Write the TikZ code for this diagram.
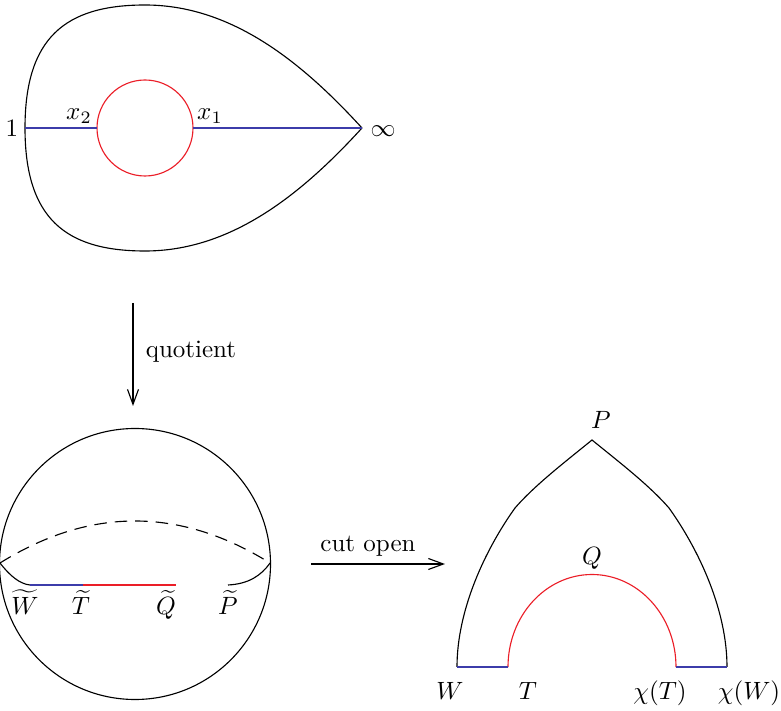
\documentclass[tikz,border=0pt]{standalone}
\usetikzlibrary{arrows.meta}
\definecolor{myblue}{RGB}{60,60,170}
\definecolor{myred}{RGB}{235,30,40}
\begin{document}
\begin{tikzpicture}[x=0.4pt,y=-0.4pt,line width=0.45pt,
  lbl/.style={inner sep=0pt,anchor=base},
  bl/.style={draw=myblue},
  rd/.style={draw=myred},
  arr/.style={-{Straight Barb[length=6pt,width=4.4pt]}},
  dsh/.style={dash pattern=on 5pt off 3.2pt}]
\useasboundingbox (0,0) rectangle (781,711);
% ---- top teardrop ----
\coordinate (one) at (25,128);
\coordinate (inf) at (362,128);
\coordinate (xl) at (97,128);
\coordinate (xr) at (193,128);
\coordinate (cen) at (145,128);
\draw (inf) .. controls (300,60) and (230,5) .. (145,5)
  .. controls (65,5) and (25,38) .. (one)
  .. controls (25,218) and (65,251) .. (145,251)
  .. controls (230,251) and (300,196) .. (inf);
\draw[rd] (cen) circle[radius=19.2pt];
\draw[bl] (one) -- (xl);
\draw[bl] (xr) -- (inf);
\node[lbl] (l1) at (12,137) {$1$};
\node[lbl] (linf) at (383,137) {$\infty$};
\node[lbl] (lx2) at (79,120) {$x_2$};
\node[lbl] (lx1) at (210,120) {$x_1$};
% ---- quotient arrow ----
\coordinate (qa) at (133,303);
\coordinate (qb) at (133,406);
\draw[arr] (qa) -- (qb);
\node[lbl] (quot) at (191,358) {quotient};
% ---- sphere ----
\coordinate (sc) at (135,564);
\coordinate (sl) at (0,563);
\coordinate (sr) at (270,563);
\coordinate (sw) at (30,585);
\coordinate (st) at (83,585);
\coordinate (sq) at (176,585);
\coordinate (sp) at (228,585);
\draw (sc) circle[radius=54.2pt];
\draw[dsh] (sl) .. controls (45,535) and (90,521) .. (135,521)
  .. controls (180,521) and (225,535) .. (sr);
\draw (sl) .. controls (10,576) and (20,584) .. (sw);
\draw (sp) .. controls (248,584) and (261,576) .. (sr);
\draw[bl] (sw) -- (st);
\draw[rd] (st) -- (sq);
\node[lbl] (lW) at (25,615) {$\widetilde{W}$};
\node[lbl] (lT) at (81,615) {$\widetilde{T}$};
\node[lbl] (lQ) at (166,615) {$\widetilde{Q}$};
\node[lbl] (lP) at (228,615) {$\widetilde{P}$};
% ---- cut open arrow ----
\coordinate (ca) at (311,564);
\coordinate (cb) at (445,564);
\draw[arr] (ca) -- (cb);
\node[lbl] (cut) at (368,552) {cut open};
% ---- right shape ----
\coordinate (P) at (592,440);
\coordinate (W) at (457,667);
\coordinate (T) at (508,667);
\coordinate (cT) at (676,667);
\coordinate (cW) at (727,667);
\draw (W) .. controls (457,610) and (485,550) .. (515,508)
  .. controls (535,485) and (565,462) .. (P)
  .. controls (619,462) and (649,485) .. (669,508)
  .. controls (699,550) and (727,610) .. (cW);
\draw[rd] (T) arc[start angle=180,end angle=0,x radius=33.6pt,y radius=37pt];
\draw[bl] (W) -- (T);
\draw[bl] (cT) -- (cW);
\node[lbl] (lPP) at (601,429) {$P$};
\node[lbl] (lQQ) at (592,565) {$Q$};
\node[lbl] (lWW) at (450,700) {$W$};
\node[lbl] (lTT) at (528,700) {$T$};
\node[lbl] (lcT) at (660,700) {$\chi(T)$};
\node[lbl] (lcW) at (749,700) {$\chi(W)$};
\end{tikzpicture}
\end{document}
